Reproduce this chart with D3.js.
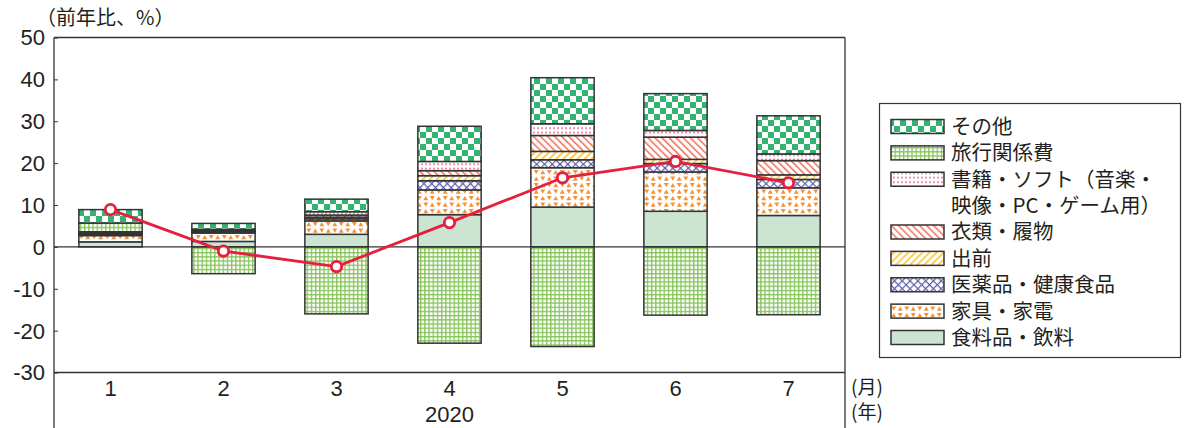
<!DOCTYPE html>
<html>
<head>
<meta charset="utf-8">
<script src="https://cdn.jsdelivr.net/npm/d3@7"></script>
<style>
  html, body { margin: 0; padding: 0; background: #fff; }
  svg { display: block; }
  text { font-family: "Liberation Sans", Arial, sans-serif; fill: #231f20; }
  .jp { font-family: "Noto Sans CJK JP", "Noto Sans", sans-serif; }
</style>
</head>
<body>
<svg id="chart" width="1185" height="428"></svg>
<script>
// Months (2020) and contributions to the year-on-year change (percentage points)
const months = ["1", "2", "3", "4", "5", "6", "7"];
const yearLabel = "2020";
const yTicks = [-30, -20, -10, 0, 10, 20, 30, 40, 50];

const food      = [1.2, 1.3, 3.0, 7.7, 9.5, 8.5, 7.5];
const furniture = [1.5, 2.0, 3.2, 5.9, 9.4, 9.4, 6.6];
const medicine  = [0.3, 0.3, 0.5, 2.2, 1.9, 2.0, 2.0];
const delivery  = [0.2, 0.2, 0.4, 1.2, 2.0, 1.0, 1.1];
const clothing  = [0.2, 0.2, 0.5, 1.2, 3.8, 5.3, 3.4];
const books     = [0.2, 0.2, 0.8, 2.2, 2.8, 1.6, 1.6];
const travel    = [2.1, -6.4, -16.0, -23.0, -23.8, -16.3, -16.2];
const other     = [3.2, 1.4, 3.0, 8.4, 11.0, 8.8, 9.1];
const total     = [8.9, -1.0, -4.7, 5.8, 16.5, 20.4, 15.3];

// Stack order, bottom to top
const seriesKeys = ["food", "furniture", "medicine", "delivery", "clothing", "books", "travel", "other"];
const seriesValues = { food, furniture, medicine, delivery, clothing, books, travel, other };
const legendLabels = {
  other: ["その他"],
  travel: ["旅行関係費"],
  books: ["書籍・ソフト（音楽・", "映像・PC・ゲーム用）"],
  clothing: ["衣類・履物"],
  delivery: ["出前"],
  medicine: ["医薬品・健康食品"],
  furniture: ["家具・家電"],
  food: ["食料品・飲料"]
};
const legendOrder = ["other", "travel", "books", "clothing", "delivery", "medicine", "furniture", "food"];

const svg = d3.select("#chart");
const plot = { left: 54, right: 845, top: 37.5, bottom: 372.5 };

// ---- fill patterns ----
const defs = svg.append("defs");
function pattern(id, w, h, transform) {
  const p = defs.append("pattern").attr("id", id).attr("patternUnits", "userSpaceOnUse")
    .attr("width", w).attr("height", h);
  if (transform) p.attr("patternTransform", transform);
  p.append("rect").attr("width", w).attr("height", h).attr("fill", "#fff");
  return p;
}
// checker
{
  const p = pattern("pat-other", 12, 12);
  p.append("rect").attr("x", 0).attr("y", 0).attr("width", 6).attr("height", 6).attr("fill", "#34b470");
  p.append("rect").attr("x", 6).attr("y", 6).attr("width", 6).attr("height", 6).attr("fill", "#34b470");
}
// grid
{
  const p = pattern("pat-travel", 4.2, 4.2);
  p.append("rect").attr("x", 0).attr("y", 0).attr("width", 4.2).attr("height", 1.3).attr("fill", "#86c45a");
  p.append("rect").attr("x", 0).attr("y", 0).attr("width", 1.3).attr("height", 4.2).attr("fill", "#86c45a");
}
// dots
{
  const p = pattern("pat-books", 4, 4.5);
  p.append("circle").attr("cx", 2).attr("cy", 2.2).attr("r", 1).attr("fill", "#ef6f98");
}
// back-slash hatch
{
  const p = pattern("pat-clothing", 5, 5, "rotate(-45)");
  p.append("rect").attr("x", 0).attr("y", 0).attr("width", 1.4).attr("height", 5).attr("fill", "#f0654c");
}
// slash hatch
{
  const p = pattern("pat-delivery", 5, 5, "rotate(45)");
  p.append("rect").attr("x", 0).attr("y", 0).attr("width", 1.5).attr("height", 5).attr("fill", "#f7c21b");
}
// cross hatch
{
  const p = pattern("pat-medicine", 5.5, 5.5, "rotate(45)");
  p.append("rect").attr("x", 0).attr("y", 0).attr("width", 1.2).attr("height", 5.5).attr("fill", "#5c5caa");
  p.append("rect").attr("x", 0).attr("y", 0).attr("width", 5.5).attr("height", 1.2).attr("fill", "#5c5caa");
}
// triangles
{
  const p = pattern("pat-furniture", 13, 13);
  const c = "#f39237";
  p.append("path").attr("d", "M0.8,1 L5.7,1 L3.25,5.3 Z").attr("fill", c);
  p.append("path").attr("d", "M9.75,1 L12.2,5.3 L7.3,5.3 Z").attr("fill", c);
  p.append("path").attr("d", "M3.25,7.5 L5.7,11.8 L0.8,11.8 Z").attr("fill", c);
  p.append("path").attr("d", "M7.3,7.5 L12.2,7.5 L9.75,11.8 Z").attr("fill", c);
}
const fills = {
  food: "#cbe5d2",
  furniture: "url(#pat-furniture)",
  medicine: "url(#pat-medicine)",
  delivery: "url(#pat-delivery)",
  clothing: "url(#pat-clothing)",
  books: "url(#pat-books)",
  travel: "url(#pat-travel)",
  other: "url(#pat-other)"
};

// ---- scales ----
const x = d3.scaleBand().domain(months).range([plot.left, plot.right])
  .paddingInner(0.44).paddingOuter(0.22);
const y = d3.scaleLinear().domain([-30, 50]).range([plot.bottom, plot.top]);

// ---- stacked bars ----
const rows = months.map((m, i) => {
  const r = { month: m };
  seriesKeys.forEach(k => { r[k] = seriesValues[k][i]; });
  return r;
});
const stacked = d3.stack().keys(seriesKeys).offset(d3.stackOffsetDiverging)(rows);

const barG = svg.append("g");
stacked.forEach(layer => {
  barG.append("g").selectAll("rect").data(layer).join("rect")
    .attr("x", d => x(d.data.month))
    .attr("width", x.bandwidth())
    .attr("y", d => y(Math.max(d[0], d[1])))
    .attr("height", d => Math.abs(y(d[0]) - y(d[1])))
    .attr("fill", fills[layer.key])
    .attr("stroke", "#333")
    .attr("stroke-width", 1.5);
});

// zero line
svg.append("line")
  .attr("x1", plot.left).attr("x2", plot.right)
  .attr("y1", y(0)).attr("y2", y(0))
  .attr("stroke", "#333").attr("stroke-width", 1.3);

// ---- frame and axes ----
const frame = svg.append("g").attr("stroke", "#333").attr("stroke-width", 1.3).attr("fill", "none");
frame.append("line").attr("x1", plot.left).attr("x2", plot.right).attr("y1", plot.top).attr("y2", plot.top);
frame.append("line").attr("x1", plot.left).attr("x2", plot.left).attr("y1", plot.top).attr("y2", 428);
frame.append("line").attr("x1", plot.right).attr("x2", plot.right).attr("y1", plot.top).attr("y2", 428);
frame.append("line").attr("x1", plot.left).attr("x2", plot.right).attr("y1", plot.bottom).attr("y2", plot.bottom);

const yAxis = svg.append("g").attr("transform", `translate(${plot.left},0)`)
  .call(d3.axisRight(y).tickValues(yTicks).tickSize(4).tickFormat(""));
yAxis.select(".domain").remove();
yAxis.selectAll(".tick line").attr("stroke", "#333").attr("stroke-width", 1);

svg.append("g").selectAll("text").data(yTicks).join("text")
  .attr("x", 45).attr("y", d => y(d)).attr("dy", "0.36em")
  .attr("text-anchor", "end").attr("font-size", 22)
  .text(d => d);

svg.append("g").selectAll("text").data(months).join("text")
  .attr("x", d => x(d) + x.bandwidth() / 2).attr("y", 396)
  .attr("text-anchor", "middle").attr("font-size", 22)
  .text(d => d);
svg.append("text").attr("x", x("4") + x.bandwidth() / 2).attr("y", 422)
  .attr("text-anchor", "middle").attr("font-size", 22).text(yearLabel);

svg.append("text").attr("class", "jp").attr("x", 851).attr("y", 394).attr("font-size", 19).text("(月)");
svg.append("text").attr("class", "jp").attr("x", 851).attr("y", 419).attr("font-size", 19).text("(年)");
svg.append("text").attr("class", "jp").attr("x", 36).attr("y", 25).attr("font-size", 20).text("（前年比、%）");

// ---- total line ----
const line = d3.line().x((d, i) => x(months[i]) + x.bandwidth() / 2).y(d => y(d));
svg.append("path").datum(total).attr("d", line)
  .attr("fill", "none").attr("stroke", "#e61e3f").attr("stroke-width", 2.8);
svg.append("g").selectAll("circle").data(total).join("circle")
  .attr("cx", (d, i) => x(months[i]) + x.bandwidth() / 2).attr("cy", d => y(d))
  .attr("r", 5.2).attr("fill", "#fff").attr("stroke", "#e61e3f").attr("stroke-width", 2.8);

// ---- legend ----
const lg = svg.append("g");
lg.append("rect").attr("x", 879.5).attr("y", 103.5).attr("width", 301).attr("height", 254)
  .attr("fill", "#fff").attr("stroke", "#333").attr("stroke-width", 1.2);
let row = 0;
legendOrder.forEach(k => {
  const cy = 126.5 + row * 26.375;
  lg.append("rect").attr("x", 891).attr("y", cy - 7).attr("width", 53).attr("height", 14)
    .attr("fill", fills[k]).attr("stroke", "#333").attr("stroke-width", 1.5);
  legendLabels[k].forEach((t, j) => {
    lg.append("text").attr("class", "jp").attr("x", 951).attr("y", cy + j * 26.375)
      .attr("dy", "0.36em").attr("font-size", 20.5).text(t);
  });
  row += legendLabels[k].length;
});
</script>
</body>
</html>
